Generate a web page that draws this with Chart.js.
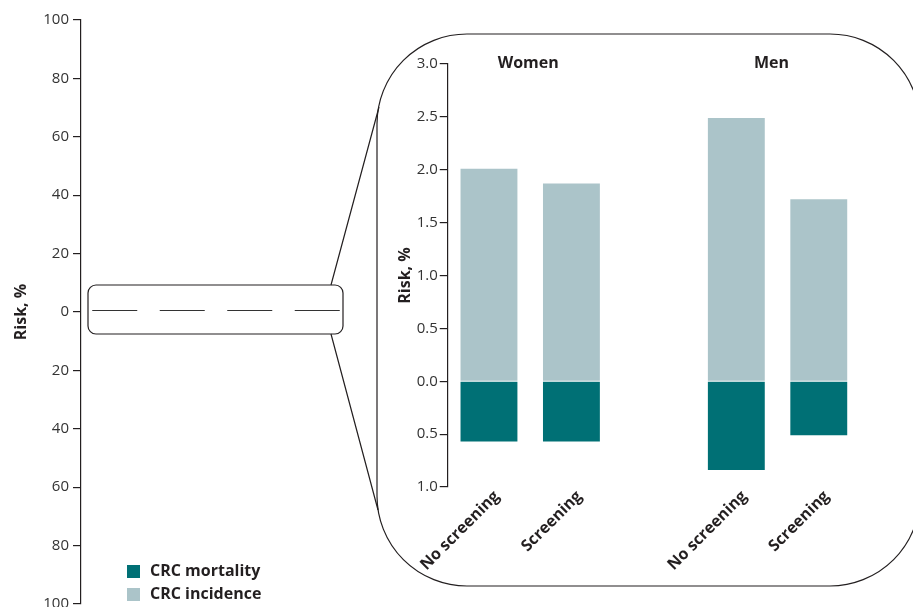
<!DOCTYPE html>
<html><head><meta charset="utf-8">
<script src="https://cdn.jsdelivr.net/npm/chart.js@4/dist/chart.umd.min.js"></script>
<style>
html,body{margin:0;padding:0;background:#fff;}
#wrap{position:relative;width:913px;height:607px;overflow:hidden;background:#fff;}
canvas{position:absolute;left:0;top:0;}
</style></head><body>
<div id="wrap"><canvas id="overview" width="913" height="607"></canvas><canvas id="detail" width="913" height="607"></canvas></div>
<script>
// ---- data ----
const categories = ['No screening', 'Screening', '', 'No screening', 'Screening'];
const groupLabels = ['Women', 'Men'];
const groupMembers = [[0, 1], [3, 4]];
const incidence = [2.01, 1.87, null, 2.49, 1.72];   // CRC incidence, %
const mortality = [-0.57, -0.57, null, -0.84, -0.51]; // CRC mortality, % (drawn downward)
const seriesNames = ['CRC mortality', 'CRC incidence'];
const seriesColors = ['#007075', '#abc4c9'];
const overviewRange = [-100, 100];
const overviewStep = 20;
const detailRange = [-1, 3];
const detailStep = 0.5;

const INK = '#231f20';
const FONT = "'Open Sans', 'DejaVu Sans', sans-serif";
Chart.defaults.font.family = FONT;

const ovLabels = categories.filter((c, i) => incidence[i] !== null);
const ovInc = incidence.filter(v => v !== null);
const ovMort = mortality.filter(v => v !== null);

function roundRect(ctx, x, y, w, h, r) {
  ctx.beginPath();
  ctx.moveTo(x + r, y);
  ctx.lineTo(x + w - r, y);
  ctx.arcTo(x + w, y, x + w, y + r, r);
  ctx.lineTo(x + w, y + h - r);
  ctx.arcTo(x + w, y + h, x + w - r, y + h, r);
  ctx.lineTo(x + r, y + h);
  ctx.arcTo(x, y + h, x, y + h - r, r);
  ctx.lineTo(x, y + r);
  ctx.arcTo(x, y, x + r, y, r);
  ctx.closePath();
}

const zoomPlugin = {
  id: 'zoomDecor',
  afterDatasetsDraw(chart) {
    const ctx = chart.ctx, ca = chart.chartArea, y = chart.scales.y;
    const dashY = y.getPixelForValue(0) - 2.5;
    ctx.save();
    ctx.strokeStyle = '#333';
    ctx.lineWidth = 1;
    chart.getDatasetMeta(0).data.forEach(el => {
      ctx.beginPath();
      ctx.moveTo(el.x - el.width / 2, Math.round(dashY) + 0.5);
      ctx.lineTo(el.x + el.width / 2, Math.round(dashY) + 0.5);
      ctx.stroke();
    });
    // small box around zero
    const bx = ca.left + 7, bw = ca.right - 8 - bx, by = dashY - 24.5, bh = 49;
    ctx.strokeStyle = INK;
    ctx.lineWidth = 1.2;
    roundRect(ctx, bx, by, bw, bh, 8);
    ctx.stroke();
    // big magnified frame
    roundRect(ctx, 377, 34, 543, 552, 90);
    ctx.stroke();
    // connector lines
    ctx.beginPath();
    ctx.moveTo(bx + bw - 12, by);
    ctx.lineTo(379, 107);
    ctx.moveTo(bx + bw - 12, by + bh);
    ctx.lineTo(378, 510);
    ctx.stroke();
    // legend
    ctx.font = "bold 16px " + FONT;
    ctx.textBaseline = 'middle';
    ctx.textAlign = 'left';
    seriesNames.forEach((name, i) => {
      const ly = 571.5 + i * 23;
      ctx.fillStyle = seriesColors[i];
      ctx.fillRect(127, ly - 6.5, 13, 13);
      ctx.fillStyle = INK;
      ctx.fillText(name, 150, ly);
    });
    ctx.restore();
  }
};

new Chart(document.getElementById('overview'), {
  type: 'bar',
  data: {
    labels: ovLabels,
    datasets: [
      { label: seriesNames[1], data: ovInc, backgroundColor: 'rgba(0,0,0,0)', borderWidth: 0 },
      { label: seriesNames[0], data: ovMort, backgroundColor: 'rgba(0,0,0,0)', borderWidth: 0 }
    ]
  },
  options: {
    responsive: false, animation: false,
    layout: { padding: { left: 0, top: 20, right: 562, bottom: 3 } },
    datasets: { bar: { categoryPercentage: 1, barPercentage: 0.667 } },
    plugins: { legend: { display: false }, tooltip: { enabled: false } },
    scales: {
      x: { display: false, stacked: true },
      y: {
        stacked: true, min: overviewRange[0], max: overviewRange[1],
        ticks: { stepSize: overviewStep, callback: v => Math.abs(v), color: '#333', font: { size: 15 }, padding: 4 },
        grid: { drawOnChartArea: false, drawTicks: true, tickLength: 8, color: INK, lineWidth: 1.2 },
        border: { display: true, color: INK, width: 1.2 },
        title: { display: true, text: 'Risk, %', color: INK, font: { size: 16, weight: 'bold' }, padding: { top: 12, bottom: 0 } },
        afterFit(s) { s.width = 81; s.paddingTop = 0; s.paddingBottom = 0; }
      }
    }
  },
  plugins: [zoomPlugin]
});

const groupPlugin = {
  id: 'groupLabels',
  afterDraw(chart) {
    const ctx = chart.ctx, x = chart.scales.x;
    ctx.save();
    ctx.font = "bold 16px " + FONT;
    ctx.fillStyle = INK;
    ctx.textAlign = 'center';
    ctx.textBaseline = 'alphabetic';
    groupLabels.forEach((g, i) => {
      const m = groupMembers[i];
      const cx = (x.getPixelForValue(m[0]) + x.getPixelForValue(m[1])) / 2;
      ctx.fillText(g, cx - 2 - 4 * i, 68);
    });
    ctx.restore();
  }
};

new Chart(document.getElementById('detail'), {
  type: 'bar',
  data: {
    labels: categories,
    datasets: [
      { label: seriesNames[1], data: incidence, backgroundColor: seriesColors[1], borderWidth: 0 },
      { label: seriesNames[0], data: mortality, backgroundColor: seriesColors[0], borderWidth: 0 }
    ]
  },
  options: {
    responsive: false, animation: false,
    layout: { padding: { left: 370, top: 64, right: 53, bottom: 0 } },
    datasets: { bar: { categoryPercentage: 1, barPercentage: 0.69 } },
    plugins: { legend: { display: false }, tooltip: { enabled: false } },
    scales: {
      x: {
        stacked: true,
        grid: { display: false, drawTicks: false },
        border: { display: false },
        ticks: { minRotation: 45, maxRotation: 45, autoSkip: false, color: INK, font: { size: 16, weight: 'bold' }, padding: 0, labelOffset: 8 },
        afterFit(s) { s.height = 120; s.paddingLeft = 0; s.paddingRight = 0; }
      },
      y: {
        stacked: true, min: detailRange[0], max: detailRange[1],
        ticks: { stepSize: detailStep, callback: v => Math.abs(v).toFixed(1), color: '#333', font: { size: 15 }, padding: 2 },
        grid: { drawOnChartArea: false, drawTicks: true, tickLength: 8, color: INK, lineWidth: 1.2 },
        border: { display: true, color: INK, width: 1.2 },
        title: { display: true, text: 'Risk, %', color: INK, font: { size: 16, weight: 'bold' }, padding: { top: 26, bottom: 0 } },
        afterFit(s) { s.width = 77.75; s.paddingTop = 0; s.paddingBottom = 0; }
      }
    }
  },
  plugins: [groupPlugin]
});
</script>
</body></html>
